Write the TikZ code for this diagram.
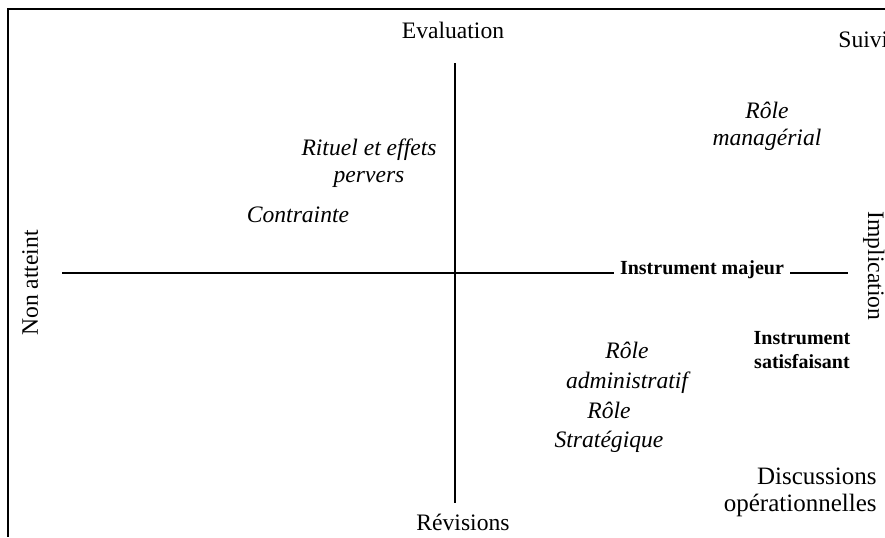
\documentclass[tikz,border=0pt]{standalone}
\usepackage{fontspec}
\setmainfont{Liberation Serif}
\begin{document}
\begin{tikzpicture}[x=0.5pt,y=-0.5pt,
  lbl/.style={inner sep=0pt, font=\fontsize{11.8}{14}\selectfont},
  lblbig/.style={inner sep=0pt, font=\fontsize{12.5}{15}\selectfont},
  itl/.style={inner sep=0pt, font=\fontsize{11.8}{14}\selectfont\itshape},
  bfl/.style={inner sep=0pt, font=\fontsize{10}{12}\selectfont\bfseries},
  axis/.style={line width=0.65pt},
  framel/.style={line width=0.75pt}]
\useasboundingbox (0,0) rectangle (885,537);
\clip (0,0) rectangle (885,537);
% frame
\coordinate (ftr) at (885,9);
\coordinate (ftl) at (8,9);
\coordinate (fbl) at (8,537);
\draw[framel] (ftr) -- (ftl) -- (fbl);
% axes
\coordinate (vt) at (455,63);
\coordinate (vb) at (455,503);
\draw[axis] (vt) -- (vb);
\coordinate (hl) at (62,273);
\coordinate (hr) at (848,273);
\node[bfl, inner xsep=3pt, anchor=base] (maj) at (702,274) {Instrument majeur};
\draw[axis] (hl) -- (hl -| maj.west);
\draw[axis] (hr -| maj.east) -- (hr);
% axis labels
\node[lbl, anchor=base] (eval) at (453,38) {Evaluation};
\node[lbl, anchor=base west] (suivi) at (838,47) {Suivi};
\node[lbl, anchor=base] (rev) at (463,530) {Révisions};
\node[lbl, anchor=base, rotate=90] (non) at (38,283) {Non atteint};
\node[lbl, anchor=base, rotate=-90] (impl) at (868,266) {Implication};
% quadrant labels
\node[itl, anchor=base] (rm1) at (767,118) {Rôle};
\node[itl, anchor=base] (rm2) at (767,145) {managérial};
\node[itl, anchor=base] (rit1) at (369,155) {Rituel et effets};
\node[itl, anchor=base] (rit2) at (369,182) {pervers};
\node[itl, anchor=base] (contr) at (298,222) {Contrainte};
\node[itl, anchor=base] (ra1) at (627,358) {Rôle};
\node[itl, anchor=base] (ra2) at (627,388) {administratif};
\node[bfl, anchor=base] (is1) at (802,344) {Instrument};
\node[bfl, anchor=base] (is2) at (802,368) {satisfaisant};
\node[itl, anchor=base] (rs1) at (609,418) {Rôle};
\node[itl, anchor=base] (rs2) at (609,447) {Stratégique};
\node[lblbig, anchor=base east] (disc1) at (877,484) {Discussions};
\node[lblbig, anchor=base east] (disc2) at (877,511) {opérationnelles};
\end{tikzpicture}
\end{document}
